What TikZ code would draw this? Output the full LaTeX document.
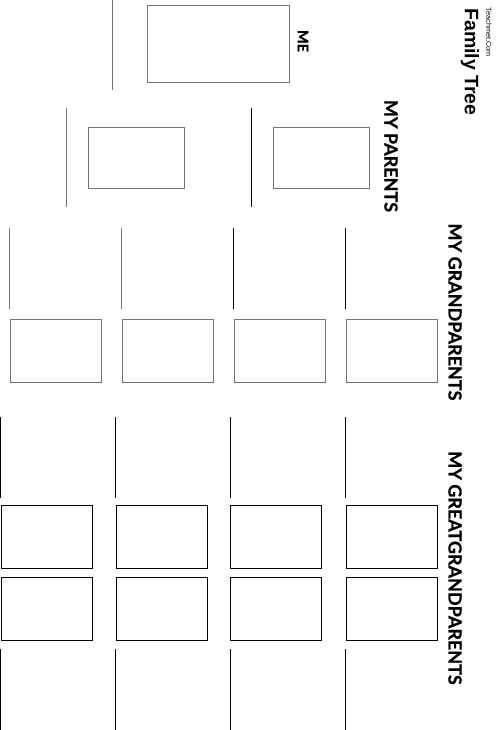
\documentclass[tikz,border=0pt]{standalone}
\usepackage{fontspec}
\setmainfont{Lato}[BoldFeatures={FakeBold=0.8}]
\newfontfamily\arialish{Liberation Sans}
\begin{document}
\begin{tikzpicture}[x=1pt,y=-1pt,
  box/.style={draw=black!55,line width=1pt,fill=none,inner sep=0pt,anchor=north west},
  gbox/.style={draw=black,line width=1pt,fill=none,inner sep=0pt,anchor=north west,minimum width=91pt,minimum height=63pt},
  gline/.style={draw=black!55,line width=1pt},
  bline/.style={draw=black,line width=1pt},
  lbl/.style={rotate=-90,inner sep=0pt,font=\bfseries\fontsize{18}{18}\selectfont}]
\useasboundingbox (0,0) rectangle (497,730);
% ME
\draw[gline] (112,0) -- (112,90);
\node[box,minimum width=142pt,minimum height=77pt] (me) at (147,5) {};
\node[lbl,font=\bfseries\fontsize{14.5}{14.5}\selectfont] (melbl) at (303,41) {ME};
% parents
\draw[gline] (66,108) -- (66,207);
\draw[bline] (251,108) -- (251,207);
\node[box,minimum width=96pt,minimum height=61pt] (p1) at (88,127) {};
\node[box,minimum width=96pt,minimum height=61pt] (p2) at (273,127) {};
\node[lbl] (plbl) at (391,156) {MY PARENTS};
% grandparents
\draw[gline] (9.5,228) -- (9.5,309);
\draw[gline] (121.5,228) -- (121.5,309);
\draw[bline] (233.5,228) -- (233.5,309);
\draw[bline] (345.5,228) -- (345.5,309);
\foreach \x [count=\i] in {9.5,121.5,233.5,345.5}{
  \node[box,minimum width=91pt,minimum height=63pt] (g\i) at (\x,319) {};
}
\node[lbl] (gplbl) at (455,312) {MY GRANDPARENTS};
% great-grandparents
\foreach \x [count=\i] in {0.5,115.5,230,345.5}{
  \draw[bline] (\x,417) -- (\x,498);
  \node[gbox] (gga\i) at (\x,505) {};
  \node[gbox] (ggb\i) at (\x,577) {};
  \draw[bline] (\x,649) -- (\x,730);
}
\node[lbl] (gglbl) at (455,568) {MY GREATGRANDPARENTS};
% title
\node[rotate=-90,inner sep=0pt,font=\arialish\bfseries\fontsize{19.5}{19.5}\selectfont] (title) at (470,62) {Family Tree};
\node[rotate=-90,inner sep=0pt,font=\arialish\fontsize{7.2}{7.2}\selectfont] (site) at (489,32) {Teachmet.Com};
\end{tikzpicture}
\end{document}
